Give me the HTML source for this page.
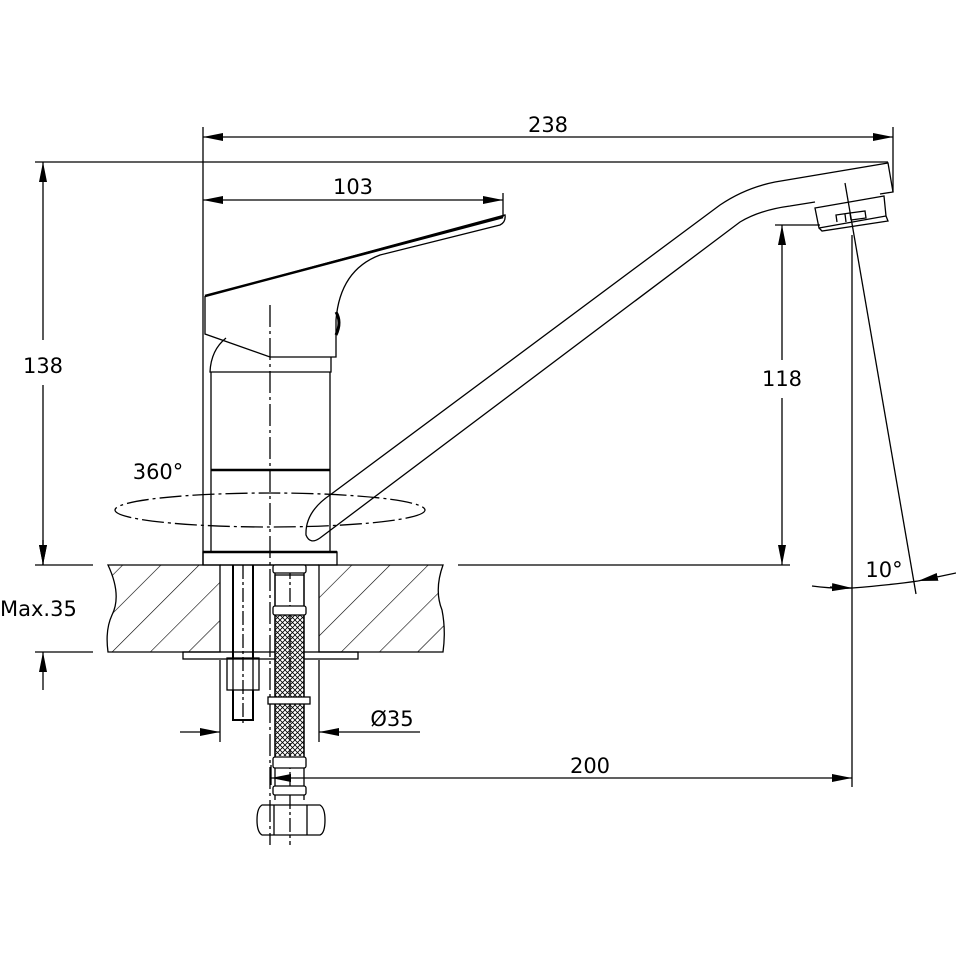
<!DOCTYPE html>
<html><head><meta charset="utf-8"><style>
html,body{margin:0;padding:0;background:#fff}
svg{display:block}
text{font-family:"DejaVu Sans","Liberation Sans",sans-serif;font-size:21px;fill:#000}
</style></head><body>
<svg width="956" height="957" viewBox="0 0 956 957" xmlns="http://www.w3.org/2000/svg">
<defs>
<pattern id="h" patternUnits="userSpaceOnUse" width="27" height="27" patternTransform="rotate(45)">
<line x1="0" y1="0" x2="0" y2="27" stroke="#000" stroke-width="1.2"/>
</pattern>
<pattern id="x" patternUnits="userSpaceOnUse" width="5" height="5">
<path d="M0,0 L5,5 M5,0 L0,5" stroke="#000" stroke-width="0.8"/>
</pattern>
<marker id="a" markerWidth="20" markerHeight="10" refX="20" refY="5" orient="auto" markerUnits="userSpaceOnUse">
<path d="M0,1 L20,5 L0,9 Z" fill="#000"/>
</marker>
</defs>
<g stroke="#000" stroke-width="1.3" fill="none">
<!-- 238 dim -->
<line x1="203" y1="127" x2="203" y2="565"/>
<line x1="893" y1="127" x2="893" y2="192"/>
<line x1="223" y1="137" x2="203" y2="137" marker-end="url(#a)"/>
<line x1="223" y1="137" x2="893" y2="137" marker-end="url(#a)"/>
<!-- 103 dim -->
<line x1="503" y1="193" x2="503" y2="217"/>
<line x1="223" y1="200" x2="203" y2="200" marker-end="url(#a)"/>
<line x1="223" y1="200" x2="503" y2="200" marker-end="url(#a)"/>
<!-- top ref line -->
<line x1="35" y1="162" x2="888" y2="162"/>
<!-- 138 -->
<line x1="43" y1="340" x2="43" y2="162" marker-end="url(#a)"/>
<line x1="43" y1="385" x2="43" y2="565" marker-end="url(#a)"/>
<line x1="35" y1="565" x2="93" y2="565"/>
<line x1="35" y1="652" x2="93" y2="652"/>
<line x1="43" y1="540" x2="43" y2="565" marker-end="url(#a)"/>
<line x1="43" y1="690" x2="43" y2="652" marker-end="url(#a)"/>
<!-- 118 -->
<line x1="775" y1="225" x2="820" y2="225"/>
<line x1="782" y1="360" x2="782" y2="225" marker-end="url(#a)"/>
<line x1="782" y1="398" x2="782" y2="565" marker-end="url(#a)"/>
<line x1="458" y1="565" x2="790" y2="565"/>
<!-- countertop -->
<path d="M108,565 L220,565 L220,652 L108,652 Q105,630 112,615 Q122,595 108,565 Z" fill="url(#h)"/>
<path d="M319,565 L443,565 Q434,590 442,610 Q446,630 443,652 L319,652 Z" fill="url(#h)"/>
<line x1="220" y1="565" x2="319" y2="565"/>
<rect x="183" y="652" width="175" height="7"/>
<!-- body -->
<rect x="203" y="552" width="134" height="13"/>
<line x1="203" y1="552" x2="337" y2="552" stroke-width="2.5"/>
<line x1="211" y1="372" x2="211" y2="552"/>
<line x1="330" y1="372" x2="330" y2="552"/>
<line x1="211" y1="470" x2="330" y2="470" stroke-width="2.5"/>
<path d="M226,338 Q211,350 210,372 L331,372 L331,357"/>
<!-- handle -->
<path d="M205,296 L205,334 L270,357 L336,357 L336,320 Q340,270 380,255 L500,225 Q506,222 505,215 L205,296" />
<line x1="205" y1="296" x2="503" y2="217" stroke-width="2.5"/>
<path d="M336,312 Q342,322 336,335" stroke-width="3"/>
<!-- centerline -->
<line x1="270" y1="305" x2="270" y2="845" stroke-dasharray="22,4,3,4"/>
<!-- ellipse -->
<ellipse cx="270" cy="510" rx="155" ry="17" stroke-dasharray="22,4,3,4"/>
<!-- spout -->
<path d="M330,495 L720,205 Q745,188 775,182 L888,163 L893,192 L880,194"/>
<path d="M330,495 Q305,512 306,535 Q310,545 320,538 L740,222 Q760,210 790,206 L815,202"/>
<path d="M815,208 L884,196 L886,216 L819,228 Z M819,228 L822,231 L888,221 L886,216"/>
<path d="M837,222 L836,215 L850,213 L851,220 M845,214 L846,222 M850,213 L865,211 L866,218 L851,220"/>
<!-- axis lines -->
<line x1="852" y1="235" x2="852" y2="787"/>
<line x1="845" y1="183" x2="916" y2="594"/>
<path d="M812,586 Q835,589 852,588 Q890,585 918,581"/>
<line x1="830" y1="587" x2="852" y2="588" marker-end="url(#a)"/>
<line x1="956" y1="573" x2="918" y2="581" marker-end="url(#a)"/>
<!-- left pipe -->
<path d="M233,565 L233,658 M253,565 L253,658" stroke-width="2"/>
<line x1="243" y1="565" x2="243" y2="725" stroke-dasharray="14,3,3,3"/>
<rect x="227" y="658" width="32" height="32"/>
<line x1="233" y1="658" x2="233" y2="690"/><line x1="253" y1="658" x2="253" y2="690"/>
<path d="M233,690 L233,720 L253,720 L253,690" stroke-width="2"/>
<!-- hose -->
<rect x="275" y="575" width="29" height="185" fill="#fff"/>
<rect x="275" y="614" width="29" height="142" fill="url(#x)" stroke="none"/>
<path d="M275,565 L275,800 M304,565 L304,800"/>
<line x1="290" y1="565" x2="290" y2="845" stroke-dasharray="14,3,3,3"/>
<rect x="273" y="565" width="33" height="8" rx="2" fill="#fff"/>
<rect x="273" y="606" width="33" height="9" rx="2" fill="#fff"/>
<rect x="273" y="757" width="33" height="11" rx="2" fill="#fff"/>
<rect x="273" y="786" width="33" height="9" rx="2" fill="#fff"/>
<rect x="268" y="697" width="42" height="7" fill="#fff"/>
<path d="M262,805 L320,805 Q325,808 325,820 Q325,833 320,835 L262,835 Q257,832 257,820 Q257,808 262,805 Z M274,805 L274,835 M307,805 L307,835"/>
<!-- Ø35 -->
<line x1="220" y1="660" x2="220" y2="742"/>
<line x1="319" y1="660" x2="319" y2="742"/>
<line x1="180" y1="732" x2="220" y2="732" marker-end="url(#a)"/>
<line x1="420" y1="732" x2="319" y2="732" marker-end="url(#a)"/>
<!-- 200 -->
<line x1="271" y1="765" x2="271" y2="785"/>
<line x1="300" y1="778" x2="271" y2="778" marker-end="url(#a)"/>
<line x1="300" y1="778" x2="852" y2="778" marker-end="url(#a)"/>
</g>
<g>
<text x="548" y="132" text-anchor="middle">238</text>
<text x="353" y="194" text-anchor="middle">103</text>
<text x="43" y="373" text-anchor="middle">138</text>
<text x="782" y="386" text-anchor="middle">118</text>
<text x="158" y="479" text-anchor="middle">360°</text>
<text x="0" y="616">Max.35</text>
<text x="392" y="726" text-anchor="middle">Ø35</text>
<text x="590" y="773" text-anchor="middle">200</text>
<text x="884" y="577" text-anchor="middle">10°</text>
</g>
</svg>
</body></html>
